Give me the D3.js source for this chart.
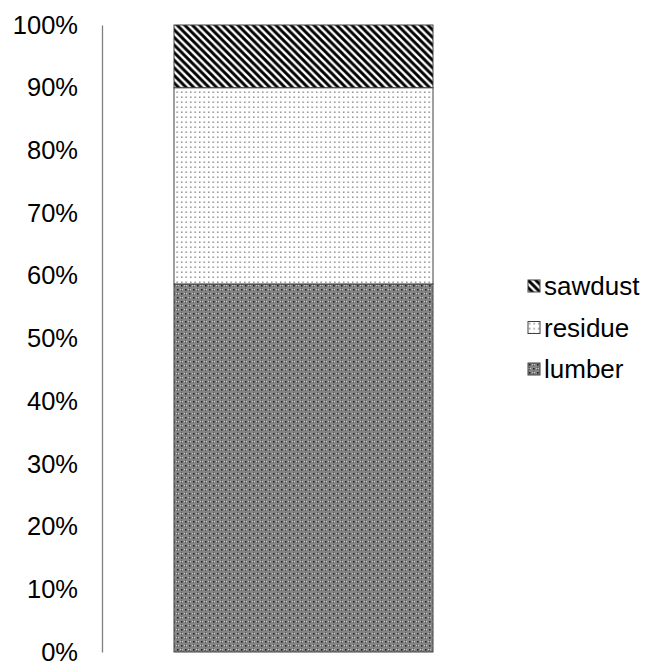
<!DOCTYPE html>
<html>
<head>
<meta charset="utf-8">
<script src="https://cdn.jsdelivr.net/npm/d3@7"></script>
<style>
  html, body { margin: 0; padding: 0; background: #fff; }
  text { font-family: "Liberation Sans", Arial, sans-serif; }
</style>
</head>
<body>
<svg id="chart" width="651" height="662"></svg>
<script>
// Share of output per category (percent), stacked bottom to top
const categories = ["lumber", "residue", "sawdust"];
const shares = [58.7, 31.3, 10.0];
const tickValues = [0, 10, 20, 30, 40, 50, 60, 70, 80, 90, 100];
const tickLabels = ["0%", "10%", "20%", "30%", "40%", "50%", "60%", "70%", "80%", "90%", "100%"];

const svg = d3.select("#chart");
const defs = svg.append("defs");

// Fill patterns
const pDiag = defs.append("pattern").attr("id", "pat-sawdust")
  .attr("patternUnits", "userSpaceOnUse").attr("width", 7.6).attr("height", 7.6);
pDiag.append("rect").attr("width", 7.6).attr("height", 7.6).attr("fill", "#fff");
pDiag.append("path").attr("d", "M-2,-2 L9.6,9.6 M-2,5.6 L2,9.6 M5.6,-2 L9.6,2")
  .attr("stroke", "#000").attr("stroke-width", 2.9);

const pDots = defs.append("pattern").attr("id", "pat-residue")
  .attr("patternUnits", "userSpaceOnUse").attr("width", 4.5).attr("height", 5);
pDots.append("rect").attr("width", 4.5).attr("height", 5).attr("fill", "#fff");
pDots.append("rect").attr("x", 1).attr("y", 1.5).attr("width", 1.4).attr("height", 1.4).attr("fill", "#7a7a7a");

const pLumber = defs.append("pattern").attr("id", "pat-lumber")
  .attr("patternUnits", "userSpaceOnUse").attr("width", 8).attr("height", 8);
pLumber.append("rect").attr("width", 8).attr("height", 8).attr("fill", "#858585");
[[0,0],[4,4]].forEach(([x, y]) => pLumber.append("rect")
  .attr("x", x + 1).attr("y", y + 1).attr("width", 1.6).attr("height", 1.6).attr("fill", "#222"));
[[4,0],[0,4]].forEach(([x, y]) => {
  pLumber.append("rect").attr("x", x).attr("y", y + 1).attr("width", 1).attr("height", 1).attr("fill", "#c8c8c8");
  pLumber.append("rect").attr("x", x + 2).attr("y", y + 1).attr("width", 1).attr("height", 1).attr("fill", "#c8c8c8");
  pLumber.append("rect").attr("x", x + 1).attr("y", y).attr("width", 1).attr("height", 1).attr("fill", "#5a5a5a");
  pLumber.append("rect").attr("x", x + 1).attr("y", y + 2).attr("width", 1).attr("height", 1).attr("fill", "#5a5a5a");
});

const fills = { lumber: "url(#pat-lumber)", residue: "url(#pat-residue)", sawdust: "url(#pat-sawdust)" };

const y = d3.scaleLinear().domain([0, 100]).range([652, 25]);
const x = d3.scaleBand().domain(["total"]).range([174, 433]).padding(0);

// Axis
const axis = d3.axisLeft(y).tickValues(tickValues)
  .tickFormat((d, i) => tickLabels[i]).tickSize(0).tickPadding(24);
const gAxis = svg.append("g").attr("transform", "translate(102,0)").call(axis);
gAxis.select(".domain").attr("stroke", "#7f7f7f").attr("stroke-width", 1.3);
gAxis.selectAll("text").attr("font-size", 25.5).attr("fill", "#000")
  .attr("font-family", "Liberation Sans, Arial, sans-serif");

// Stacked segments
let acc = 0;
const segs = categories.map((c, i) => {
  const s = { key: c, y0: acc, y1: acc + shares[i] };
  acc += shares[i];
  return s;
});
svg.append("g").selectAll("rect").data(segs).join("rect")
  .attr("x", x("total"))
  .attr("width", x.bandwidth())
  .attr("y", d => y(d.y1))
  .attr("height", d => y(d.y0) - y(d.y1))
  .attr("fill", d => fills[d.key])
  .attr("stroke", "#404040").attr("stroke-width", 1);

// Legend (top to bottom: sawdust, residue, lumber)
const legendItems = categories.slice().reverse();
const lg = svg.append("g").attr("transform", "translate(528,280)");
const rows = lg.selectAll("g").data(legendItems).join("g")
  .attr("transform", (d, i) => `translate(0,${i * 41.5})`);
rows.append("rect").attr("width", 12).attr("height", 12)
  .attr("fill", d => fills[d]).attr("stroke", "#404040").attr("stroke-width", 1);
rows.append("text").attr("x", 16).attr("y", 6).attr("dy", "0.35em")
  .attr("font-size", 26).attr("fill", "#000").text(d => d);
</script>
</body>
</html>
